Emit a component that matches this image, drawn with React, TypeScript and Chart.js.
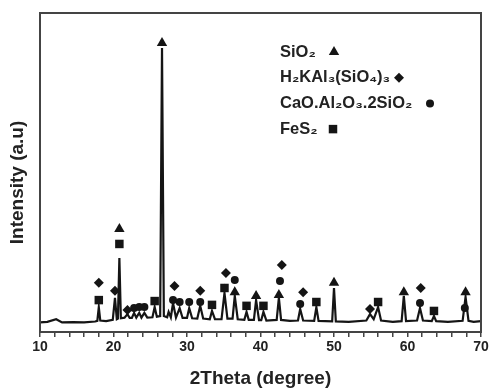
import React, { useEffect, useRef } from "react";
import { Chart, registerables } from "chart.js";

Chart.register(...registerables);

// XRD pattern (2θ in degrees, intensity in arbitrary units 0–100)
const twoTheta = [
  10, 11, 12.2, 13, 14.5, 16, 17.5, 17.8, 18.0, 18.2, 19, 19.9, 20.2, 20.45, 20.6, 20.8, 21.0,
  21.5, 21.9, 22.2, 22.5, 22.8, 23.1, 23.5, 23.8, 24.2, 24.6, 25.3, 25.6, 25.9, 26.35, 26.6,
  26.85, 27.3, 27.5, 27.8, 28.1, 28.5, 29.0, 29.4, 30.0, 30.3, 30.7, 31.4, 31.8, 32.2, 33.1,
  33.4, 33.8, 34.7, 35.1, 35.5, 36.2, 36.5, 36.9, 37.8, 38.1, 38.4, 39.1, 39.4, 39.8, 40.1,
  40.4, 40.8, 42.2, 42.5, 42.8, 44, 45.1, 45.4, 45.8, 47.3, 47.6, 47.9, 49.75, 50.0, 50.25,
  52, 54.4, 54.9, 55.4, 56.0, 56.4, 58, 59.2, 59.5, 59.8, 61.3, 61.7, 62.1, 63.3, 63.6, 63.9,
  65.5, 67.5, 67.9, 68.3, 69, 70,
];
const intensity = [
  3.0, 3.2, 4.0, 3.0, 3.1, 3.0, 3.3, 3.5, 7.8, 3.6, 3.4, 3.8, 10.7, 4.0, 4.2, 23.2, 4.3,
  4.5, 5.6, 4.4, 4.4, 6.0, 4.5, 6.0, 4.5, 6.0, 4.5, 4.6, 7.8, 4.8, 5.0, 89.0,
  5.0, 4.6, 6.3, 4.6, 9.1, 4.5, 7.5, 4.4, 4.4, 7.5, 4.3, 4.2, 8.2, 4.2, 4.0,
  6.6, 4.0, 4.0, 12.2, 4.2, 4.2, 11.3, 4.0, 3.8, 6.3, 3.8, 3.8, 10.0, 3.7, 3.7,
  6.3, 3.6, 3.8, 10.7, 3.8, 3.5, 3.6, 7.2, 3.6, 3.5, 7.8, 3.5, 3.3, 13.8, 3.3,
  3.2, 3.6, 5.6, 4.0, 7.8, 3.6, 3.2, 3.4, 11.3, 3.4, 3.6, 7.5, 3.6, 3.4, 5.0, 3.4,
  3.2, 3.5, 11.0, 3.5, 3.2, 3.4,
];

// Phase markers (position, height of marker)
const sio2Angle = [20.8, 26.6, 36.5, 39.4, 42.5, 50.0, 59.5, 67.9];
const sio2Level = [32.3, 90.6, 12.5, 11.3, 11.6, 15.4, 12.5, 12.5];

const micaAngle = [18.0, 20.2, 21.9, 28.3, 31.8, 35.3, 42.9, 45.8, 54.9, 61.8];
const micaLevel = [15.4, 12.9, 6.9, 14.4, 12.9, 18.5, 21.0, 12.5, 7.2, 13.8];

const anorthAngle = [22.8, 23.5, 24.2, 28.1, 29.0, 30.3, 31.8, 36.5, 42.65, 45.4, 61.7, 67.8];
const anorthLevel = [7.5, 7.8, 7.8, 10.0, 9.4, 9.4, 9.4, 16.3, 16.0, 8.8, 9.1, 7.5];

const fes2Angle = [18.0, 20.8, 25.6, 33.4, 35.1, 38.1, 40.4, 47.6, 56.0, 63.6];
const fes2Level = [10.0, 27.6, 9.7, 8.5, 13.8, 8.2, 8.2, 9.4, 9.4, 6.6];

const phaseLabels = ["SiO₂", "H₂KAl₃(SiO₄)₃", "CaO.Al₂O₃.2SiO₂", "FeS₂"];
const phaseStyles = ["triangle", "rectRot", "circle", "rect"];
const phaseRadius = [6, 5, 4, 6];
const legendMarkerOffset = [54, 119, 150, 53];

const xMin = 10;
const xMax = 70;
const xStep = 2;
const xLabelEvery = 10;
const xTitle = "2Theta (degree)";
const yTitle = "Intensity (a.u)";

const INK = "#151515";
const TEXT = "#222";
const FONT = "'Liberation Sans', Arial, sans-serif";

function zip(xs: number[], ys: number[]) {
  return xs.map((x, i) => ({ x, y: ys[i] }));
}

function drawMarker(ctx: CanvasRenderingContext2D, style: string, x: number, y: number, r: number) {
  ctx.beginPath();
  if (style === "triangle") {
    ctx.moveTo(x, y - r);
    ctx.lineTo(x + r * 0.866, y + r * 0.5);
    ctx.lineTo(x - r * 0.866, y + r * 0.5);
    ctx.closePath();
  } else if (style === "rectRot") {
    ctx.moveTo(x, y - r);
    ctx.lineTo(x + r, y);
    ctx.lineTo(x, y + r);
    ctx.lineTo(x - r, y);
    ctx.closePath();
  } else if (style === "circle") {
    ctx.arc(x, y, r, 0, Math.PI * 2);
  } else {
    const s = r * Math.SQRT1_2;
    ctx.rect(x - s, y - s, 2 * s, 2 * s);
  }
  ctx.fill();
}

const overlayPlugin = {
  id: "overlay",
  afterDraw(chart: any) {
    const { ctx, chartArea: a } = chart;
    ctx.save();
    // frame
    ctx.strokeStyle = "#444";
    ctx.lineWidth = 2;
    ctx.strokeRect(a.left, a.top, a.right - a.left, a.bottom - a.top);

    // y title
    ctx.fillStyle = TEXT;
    ctx.font = `bold 19px ${FONT}`;
    ctx.textAlign = "center";
    ctx.textBaseline = "middle";
    ctx.save();
    ctx.translate(a.left - 22, (a.top + a.bottom) / 2 + 10);
    ctx.rotate(-Math.PI / 2);
    ctx.fillText(yTitle, 0, 0);
    ctx.restore();

    // legend
    const lx = a.left + 240;
    const ly = a.top + 39;
    const gap = 25.7;
    ctx.font = `bold 16.5px ${FONT}`;
    ctx.textAlign = "left";
    phaseLabels.forEach((label, i) => {
      const y = ly + i * gap;
      ctx.fillStyle = TEXT;
      ctx.fillText(label, lx, y);
      ctx.fillStyle = INK;
      drawMarker(ctx, phaseStyles[i], lx + legendMarkerOffset[i], y, phaseRadius[i]);
    });
    ctx.restore();
  },
};

export default function App() {
  const canvasRef = useRef<HTMLCanvasElement | null>(null);

  useEffect(() => {
    if (!canvasRef.current) return;
    const markerSets = [
      zip(sio2Angle, sio2Level),
      zip(micaAngle, micaLevel),
      zip(anorthAngle, anorthLevel),
      zip(fes2Angle, fes2Level),
    ];
    const chart = new Chart(canvasRef.current, {
      type: "scatter",
      data: {
        datasets: [
          {
            label: "pattern",
            data: zip(twoTheta, intensity),
            showLine: true,
            borderColor: INK,
            borderWidth: 2.2,
            pointRadius: 0,
            tension: 0,
            order: 2,
          },
          ...markerSets.map((d, i) => ({
            label: phaseLabels[i],
            data: d,
            showLine: false,
            pointStyle: phaseStyles[i] as any,
            pointRadius: phaseRadius[i],
            backgroundColor: INK,
            borderColor: INK,
            borderWidth: 0,
            order: 1,
          })),
        ],
      },
      options: {
        animation: false,
        responsive: false,
        layout: { padding: { top: 13, right: 10, left: 0, bottom: 0 } },
        plugins: { legend: { display: false }, tooltip: { enabled: false } },
        scales: {
          x: {
            type: "linear",
            min: xMin,
            max: xMax,
            afterFit: (s: any) => {
              s.height = 56;
            },
            ticks: {
              stepSize: xStep,
              autoSkip: false,
              maxRotation: 0,
              padding: 2,
              color: TEXT,
              font: { family: FONT, size: 14, weight: "bold" },
              callback: (v: any) => (Number(v) % xLabelEvery === 0 ? String(v) : ""),
            },
            grid: {
              display: true,
              drawOnChartArea: false,
              drawTicks: true,
              tickLength: 5,
              color: "#444",
              lineWidth: 1.5,
            },
            border: { display: true, color: "#444", width: 2 },
            title: {
              display: true,
              text: xTitle,
              color: TEXT,
              font: { family: FONT, size: 19, weight: "bold", lineHeight: 1 },
              padding: { top: 0, bottom: 0 },
            },
          },
          y: {
            min: 0,
            max: 100,
            afterFit: (s: any) => {
              s.width = 40;
            },
            ticks: { display: false },
            grid: { display: false },
            border: { display: true, color: "#444", width: 2 },
          },
        },
      },
      plugins: [overlayPlugin],
    });
    return () => chart.destroy();
  }, []);

  return (
    <div style={{ position: "fixed", left: 0, top: 0, width: 491, height: 388, background: "#fff" }}>
      <canvas ref={canvasRef} width={491} height={388} />
    </div>
  );
}
